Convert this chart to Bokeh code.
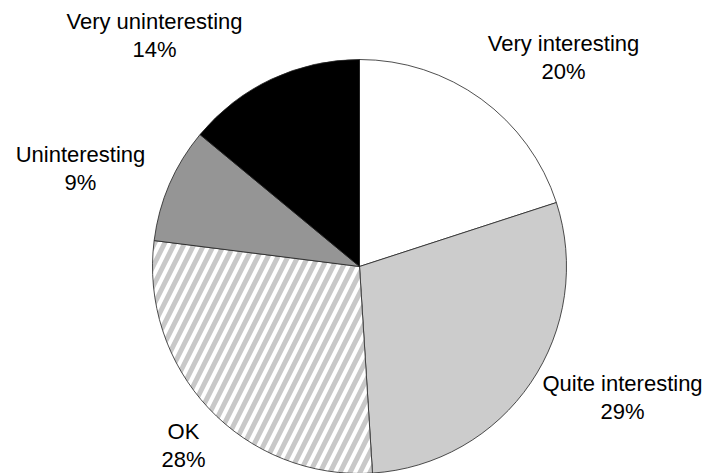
import math
from bokeh.plotting import figure
from bokeh.models import ColumnDataSource
from bokeh.core.properties import value
from bokeh.embed import file_html
from bokeh.resources import INLINE

categories = ["Very interesting", "Quite interesting", "OK", "Uninteresting", "Very uninteresting"]
percents = [20, 29, 28, 9, 14]

fills = ["#ffffff", "#cccccc", "#ffffff", "#959595", "#000000"]
hatches = [" ", " ", "/", " ", " "]

W, H = 710, 473
cx, cy, r = 359, 207, 207

# clockwise from 12 o'clock
total = sum(percents)
starts, ends = [], []
a = math.pi / 2
for v in percents:
    starts.append(a)
    a -= 2 * math.pi * v / total
    ends.append(a)

p = figure(width=W, height=H, x_range=(0, W), y_range=(0, H),
           output_backend="svg", toolbar_location=None, min_border=0)
p.axis.visible = False
p.grid.visible = False
p.outline_line_color = None
p.background_fill_color = "white"
p.border_fill_color = "white"

src = ColumnDataSource(dict(start=starts, end=ends, fill=fills, hatch=hatches,
                            cat=categories))
p.wedge(x=cx, y=cy, radius=r, start_angle="start", end_angle="end",
        direction="clock", source=src, fill_color="fill",
        line_color="#222222", line_width=0.8,
        hatch_pattern="hatch", hatch_color="#c8c8c8", hatch_scale=20,
        hatch_weight=5)

# label block centres (layout, in pixels of the plot area)
label_pos = [(563, 416), (622, 76), (183, 28), (80, 305), (154, 438)]
labels = [f"{c}\n{v}%" for c, v in zip(categories, percents)]
p.text(x=[q[0] for q in label_pos], y=[q[1] for q in label_pos], text=labels,
       text_align="center", text_baseline="middle",
       text_font=value("Liberation Sans"), text_font_size="22px",
       text_color="#000000", text_line_height=1.15)

open("out.html", "w").write(file_html(p, INLINE))
